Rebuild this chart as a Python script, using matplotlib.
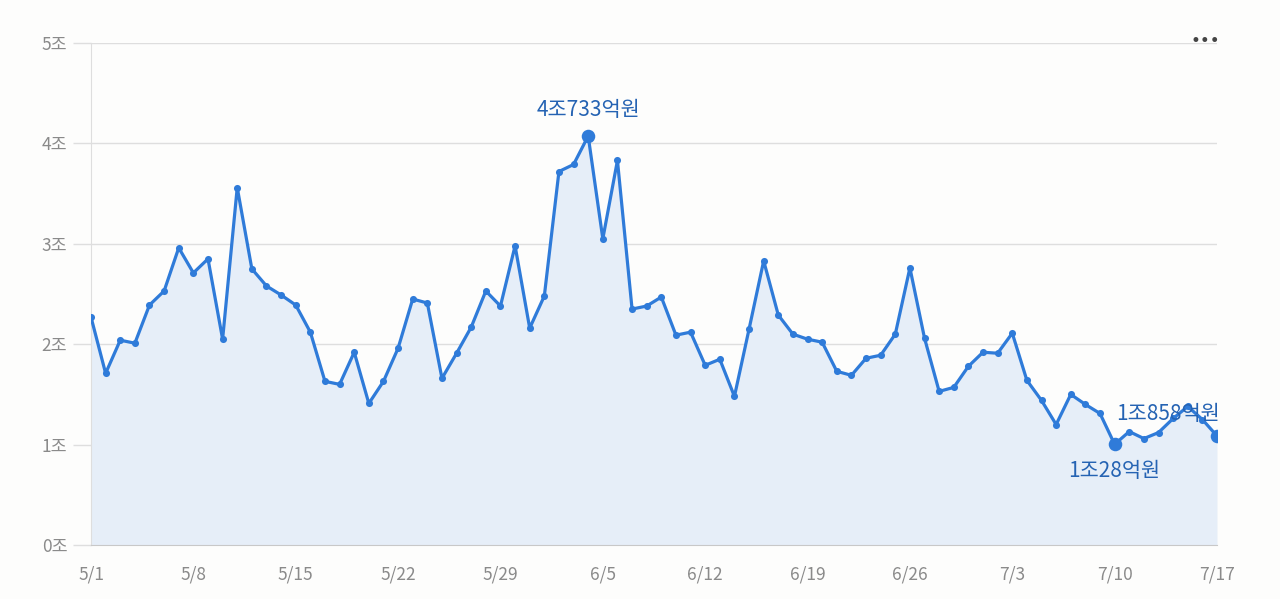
import numpy as np
import matplotlib
matplotlib.use("Agg")
import matplotlib.pyplot as plt

plt.rcParams['font.family'] = ['Noto Sans CJK KR', 'DejaVu Sans']

# ---- data (조 원) ----
dates = ["5/1","5/2","5/3","5/4","5/5","5/6","5/7","5/8","5/9","5/10","5/11","5/12","5/13","5/14",
         "5/15","5/16","5/17","5/18","5/19","5/20","5/21","5/22","5/23","5/24","5/25","5/26","5/27","5/28",
         "5/29","5/30","5/31","6/1","6/2","6/3","6/4","6/5","6/6","6/7","6/8","6/9","6/10","6/11",
         "6/12","6/13","6/14","6/15","6/16","6/17","6/18","6/19","6/20","6/21","6/22","6/23","6/24","6/25",
         "6/26","6/27","6/28","6/29","6/30","7/1","7/2","7/3","7/4","7/5","7/6","7/7","7/8","7/9",
         "7/10","7/11","7/12","7/13","7/14","7/15","7/16","7/17"]
values = [2.27, 1.71, 2.04, 2.01, 2.39, 2.53, 2.96, 2.71, 2.85, 2.05, 3.56, 2.75, 2.58, 2.49,
          2.39, 2.12, 1.63, 1.60, 1.92, 1.41, 1.63, 1.96, 2.45, 2.41, 1.66, 1.91, 2.17, 2.53,
          2.38, 2.98, 2.16, 2.48, 3.72, 3.79, 4.0733, 3.05, 3.83, 2.35, 2.38, 2.47, 2.09, 2.12,
          1.79, 1.85, 1.48, 2.15, 2.83, 2.29, 2.10, 2.05, 2.02, 1.73, 1.69, 1.86, 1.89, 2.10,
          2.76, 2.06, 1.53, 1.57, 1.78, 1.92, 1.91, 2.11, 1.64, 1.44, 1.20, 1.50, 1.40, 1.31,
          1.0028, 1.13, 1.06, 1.12, 1.26, 1.38, 1.25, 1.0858]
xtick_labels = ["5/1","5/8","5/15","5/22","5/29","6/5","6/12","6/19","6/26","7/3","7/10","7/17"]
ytick_values = [0, 1, 2, 3, 4, 5]
ytick_labels = ["0조","1조","2조","3조","4조","5조"]
annot_max = "4조733억원"
annot_min = "1조28억원"
annot_last = "1조858억원"

LINE = "#2f7bd9"
FILL = "#e6eef8"
ANN = "#2563b3"
GRID = "#dedede"
TXT = "#8a8a8a"
BG = "#fdfdfc"

x = np.arange(len(values))
vals = np.array(values)

fig = plt.figure(figsize=(12.8, 5.99), dpi=100, facecolor=BG)
ax = fig.add_axes([91/1280, 1 - 545/599, (1217-91)/1280, (545-43)/599])
ax.set_facecolor(BG)

ax.fill_between(x, 0, vals, color=FILL, zorder=1, lw=0)
ax.plot(x, vals, color=LINE, lw=2.3, zorder=3, solid_joinstyle='round', solid_capstyle='round')
ax.scatter(x, vals, s=26, color=LINE, zorder=4, linewidths=0)

imax = int(np.argmax(vals)); imin = int(np.argmin(vals)); ilast = len(vals) - 1
ax.scatter([imax, imin, ilast], vals[[imax, imin, ilast]], s=95, color=LINE, zorder=5, linewidths=0)

ax.annotate(annot_max, (imax, vals[imax]), xytext=(0, 11), textcoords='offset points',
            ha='center', va='bottom', fontsize=15, color=ANN, zorder=6)
ax.annotate(annot_min, (imin, vals[imin]), xytext=(0, -11), textcoords='offset points',
            ha='center', va='top', fontsize=15, color=ANN, zorder=6)
ax.annotate(annot_last, (ilast, vals[ilast]), xytext=(2, 8), textcoords='offset points',
            ha='right', va='bottom', fontsize=15, color=ANN, zorder=6)

ax.set_xlim(0, len(values) - 1)
ax.set_ylim(0, 5)
ax.set_yticks(ytick_values)
ax.set_yticklabels(ytick_labels)
tick_pos = [dates.index(t) for t in xtick_labels]
ax.set_xticks(tick_pos)
ax.set_xticklabels(xtick_labels)
ax.tick_params(axis='y', length=13, color=GRID, labelcolor=TXT, labelsize=12.5, pad=4, width=1)
ax.tick_params(axis='x', length=0, labelcolor=TXT, labelsize=12.5, pad=15)
ax.grid(axis='y', color=GRID, lw=1, zorder=0)
ax.set_axisbelow(True)
for s in ['top', 'right']:
    ax.spines[s].set_visible(False)
ax.spines['left'].set_color(GRID)
ax.spines['bottom'].set_color('#c8c8c8')

fig.text(1205/1280, 1 - 41/599, "•••", ha='center', va='center', fontsize=12,
         color='#444444', family='DejaVu Sans')

fig.savefig("out.png", dpi=100, facecolor=BG)
